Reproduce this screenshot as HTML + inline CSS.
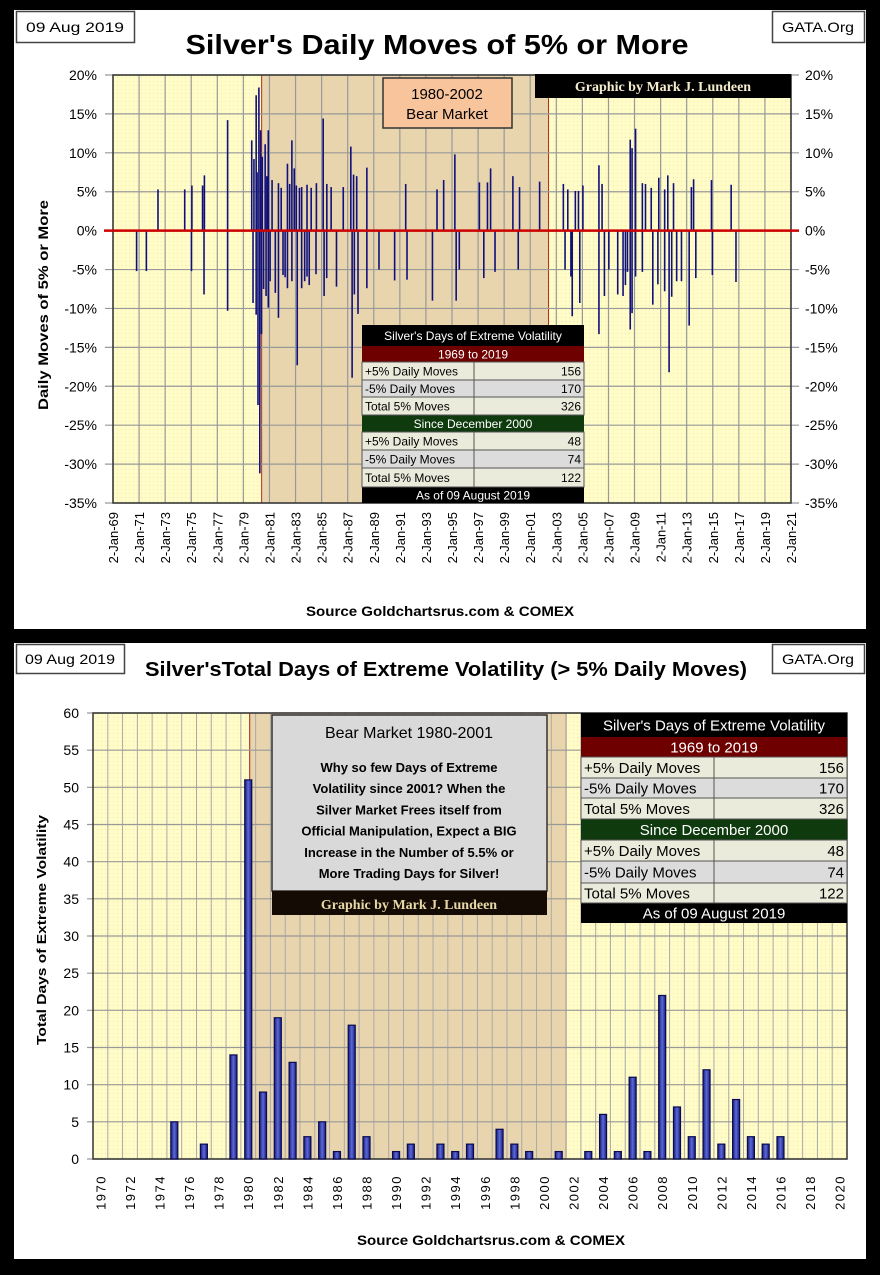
<!DOCTYPE html>
<html><head><meta charset="utf-8"><style>
html,body{margin:0;padding:0;background:#000;}
svg{display:block;font-family:"Liberation Sans",sans-serif;}
</style></head><body>
<svg id="svg" width="880" height="1275" viewBox="0 0 880 1275" xmlns="http://www.w3.org/2000/svg">
<defs>
<pattern id="dots" width="4" height="4" patternUnits="userSpaceOnUse"><rect width="4" height="4" fill="#fffcc8"/><rect x="1" y="1" width="1" height="1" fill="#efe6b0"/></pattern>
<linearGradient id="barg" x1="0" x2="1" y1="0" y2="0"><stop offset="0" stop-color="#1a1a7a"/><stop offset="0.5" stop-color="#5a6ad8"/><stop offset="1" stop-color="#1a1a7a"/></linearGradient>
</defs>
<rect x="0" y="0" width="880" height="1275" fill="#000"/>
<rect x="14" y="10" width="852" height="619" fill="#fff"/>
<rect x="14" y="643" width="852" height="616" fill="#fff"/>

<!-- top header -->
<g>
<rect x="16.5" y="11.5" width="118" height="31" fill="#fff" stroke="#444" stroke-width="1.5"/>
<text x="75" y="32" font-size="14" text-anchor="middle" textLength="98" lengthAdjust="spacingAndGlyphs">09 Aug 2019</text>
</g>
<g>
<rect x="772.5" y="11.5" width="92" height="31" fill="#fff" stroke="#444" stroke-width="1.5"/>
<text x="818" y="32" font-size="14" text-anchor="middle" textLength="72" lengthAdjust="spacingAndGlyphs">GATA.Org</text>
</g>
<text x="437" y="54" font-size="28" font-weight="bold" text-anchor="middle" textLength="503" lengthAdjust="spacingAndGlyphs">Silver's Daily Moves of 5% or More</text>
<g id="top"></g>
<text x="48" y="305" font-size="14" font-weight="bold" text-anchor="middle" transform="rotate(-90 48 305)" textLength="210" lengthAdjust="spacingAndGlyphs">Daily Moves of 5% or More</text>
<text x="440" y="616" font-size="14" font-weight="bold" text-anchor="middle" textLength="268" lengthAdjust="spacingAndGlyphs">Source Goldchartsrus.com &amp; COMEX</text>

<!-- bottom header -->
<g>
<rect x="16.5" y="644.5" width="108" height="29" fill="#fff" stroke="#444" stroke-width="1.5"/>
<text x="70" y="664" font-size="14" text-anchor="middle" textLength="90" lengthAdjust="spacingAndGlyphs">09 Aug 2019</text>
</g>
<g>
<rect x="772.5" y="644.5" width="92" height="29" fill="#fff" stroke="#444" stroke-width="1.5"/>
<text x="818" y="664" font-size="14" text-anchor="middle" textLength="72" lengthAdjust="spacingAndGlyphs">GATA.Org</text>
</g>
<text x="446" y="676" font-size="20" font-weight="bold" text-anchor="middle" textLength="602" lengthAdjust="spacingAndGlyphs">Silver'sTotal Days of Extreme Volatility (&gt; 5% Daily Moves)</text>
<g id="bot"></g>
<text x="46" y="930" font-size="13" font-weight="bold" text-anchor="middle" transform="rotate(-90 46 930)" textLength="230" lengthAdjust="spacingAndGlyphs">Total Days of Extreme Volatility</text>
<text x="491" y="1245" font-size="14" font-weight="bold" text-anchor="middle" textLength="268" lengthAdjust="spacingAndGlyphs">Source Goldchartsrus.com &amp; COMEX</text>
</svg>
<script>
// ---------- TOP CHART DATA ----------
const moveYears = [1972.45,1974.50,1975.05,1975.87,1976.01,1977.79,1979.64,1979.81,1979.98,1980.19,1980.32,1980.67,1980.91,1981.69,1981.90,1982.38,1982.72,1983.06,1983.47,1983.88,1984.60,1985.12,1985.73,1986.66,1987.24,1987.45,1987.69,1988.47,1991.45,1993.85,1994.36,1995.22,1997.10,1997.72,1997.96,1999.67,2000.18,2001.72,2003.54,2003.88,2004.46,2004.70,2005.04,2006.27,2006.51,2008.67,2008.81,2009.08,2009.60,2009.84,2010.28,2010.86,2011.31,2011.55,2011.99,2013.36,2013.53,2014.90,2016.41,
1980.05,1980.45,1980.80,1981.20,1982.55,1982.90,1983.30,1984.20,1985.40,
1970.81,1971.56,1975.02,1975.98,1977.79,1979.74,1979.98,1980.12,1980.26,1980.39,1980.74,1980.91,1981.69,1982.04,1982.38,1982.72,1983.13,1983.47,1983.88,1984.57,1985.19,1985.39,1986.14,1987.34,1987.51,1987.79,1988.47,1989.40,1990.60,1991.55,1993.50,1995.32,1995.56,1997.44,1998.30,2000.08,2003.67,2004.12,2004.22,2004.80,2006.27,2006.69,2007.03,2007.71,2008.12,2008.46,2008.67,2008.81,2009.08,2009.60,2010.79,2011.31,2011.65,2012.23,2013.19,2013.70,2014.97,2016.78,
1980.55,1981.05,1981.45,1982.20,1983.70,1984.05,2008.30,2010.40,2011.85,2012.60];
const movePcts = [5.3,5.3,5.8,5.8,7.1,14.2,11.6,9.2,17.4,18.4,12.9,11.1,12.9,6.1,5.5,8.6,11.6,5.8,5.6,5.9,6.1,14.4,5.6,5.6,10.8,7.2,7.0,8.1,6.0,5.3,6.5,9.8,6.2,6.2,8.0,7.0,5.6,6.3,6.0,5.3,5.1,5.1,5.8,8.4,6.0,11.7,10.6,13.1,6.1,6.0,5.5,6.8,5.3,7.1,6.1,5.6,6.6,6.5,5.9,
7.5,9.5,7.0,6.5,6.0,8.0,5.5,5.5,6.0,
-5.2,-5.2,-5.2,-8.2,-10.3,-9.3,-10.8,-22.4,-31.2,-13.3,-8.4,-9.9,-11.2,-5.7,-7.4,-6.5,-17.3,-7.4,-5.9,-5.6,-8.4,-6.1,-7.2,-18.9,-8.2,-10.7,-7.4,-5.0,-6.4,-6.3,-9.0,-9.0,-5.0,-6.1,-5.3,-5.0,-5.0,-5.9,-11.0,-9.3,-13.3,-8.4,-5.0,-8.2,-8.4,-5.3,-12.7,-10.6,-5.9,-5.3,-6.9,-7.8,-18.2,-6.5,-12.2,-6.1,-5.7,-6.6,
-7.5,-6.5,-8.0,-6.0,-6.5,-7.0,-7.0,-9.5,-8.5,-6.5];
const topYTicks = [20,15,10,5,0,-5,-10,-15,-20,-25,-30,-35];
const topXTickYears = [69,71,73,75,77,79,81,83,85,87,89,91,93,95,97,99,1,3,5,7,9,11,13,15,17,19,21];
const topBear = [1980.4, 2002.4];

// ---------- BOTTOM CHART DATA ----------
const yearCats = [];
for (let y = 1970; y <= 2020; y++) yearCats.push(y);
const countYears = [1975,1977,1979,1980,1981,1982,1983,1984,1985,1986,1987,1988,1990,1991,1993,1994,1995,1997,1998,1999,2001,2003,2004,2005,2006,2007,2008,2009,2010,2011,2012,2013,2014,2015,2016];
const countValues = [5,2,14,51,9,19,13,3,5,1,18,3,1,2,2,1,2,4,2,1,1,1,6,1,11,1,22,7,3,12,2,8,3,2,3];
const botYTicks = [0,5,10,15,20,25,30,35,40,45,50,55,60];
const botBear = [1980.6, 2002.0];

const statLabels = ['+5% Daily Moves','-5% Daily Moves','Total 5% Moves'];
const statAll = [156,170,326];
const statSince = [48,74,122];

const NS='http://www.w3.org/2000/svg';
function mk(parent, tag, attrs){const e=document.createElementNS(NS,tag);for(const k in attrs)e.setAttribute(k,attrs[k]);parent.appendChild(e);return e;}

// ===== TOP =====
(function(){
const g=document.getElementById('top');
const L=113,R=791,T=75,B=503;
const x=yr=>L+(yr-1969)*(R-L)/52;
const y=v=>T+(20-v)*(B-T)/55;
const plot=mk(g,'rect',{x:L,y:T,width:R-L,height:B-T,fill:'url(#dots)'});


const sh=mk(g,'rect',{x:x(topBear[0]),y:T,width:x(topBear[1])-x(topBear[0]),height:B-T,fill:'#e8d5ad',stroke:'#b03020','stroke-width':1});


for(let yr=1969; yr<=2021; yr+=2){
  const ln=mk(g,'line',{x1:x(yr),x2:x(yr),y1:T,y2:B,stroke:'#999',"stroke-width":1.2});
  
  
}
topYTicks.forEach(v=>{
  const ln=mk(g,'line',{x1:L-8,x2:R+8,y1:y(v),y2:y(v),stroke:'#999',"stroke-width":1.2});
  
  
  const t1=mk(g,'text',{x:97,y:y(v)+5,'font-size':14,'text-anchor':'end'});t1.textContent=v+'%';
  
  
  const t2=mk(g,'text',{x:805,y:y(v)+5,'font-size':14});t2.textContent=v+'%';
  
  
});
const fr=mk(g,'rect',{x:L,y:T,width:R-L,height:B-T,fill:'none',stroke:'#333',"stroke-width":1.5});


topXTickYears.forEach((yy,i)=>{
  const yr=1969+2*i;
  const px=x(yr)+5;
  const t=mk(g,'text',{x:px,y:512,'font-size':13,'text-anchor':'end',transform:`rotate(-90 ${px} 512)`});
  t.textContent='2-Jan-'+String(yy).padStart(2,'0');
  
  
});
moveYears.forEach((yr,i)=>{
  const b=mk(g,'line',{x1:x(yr),x2:x(yr),y1:y(0),y2:y(movePcts[i]),stroke:'#10107a','stroke-width':1.6});
  
  
});
const z=mk(g,'line',{x1:104,x2:R+8,y1:y(0),y2:y(0),stroke:'#cc0000','stroke-width':2.5});


// bear box
const bb=mk(g,'g',{});


mk(bb,'rect',{x:383,y:78,width:129,height:50,fill:'#f8c49c',stroke:'#333','stroke-width':1.5});
let t=mk(bb,'text',{x:447,y:99,'font-size':15,'text-anchor':'middle'});t.textContent='1980-2002';
t=mk(bb,'text',{x:447,y:119,'font-size':15,'text-anchor':'middle'});t.textContent='Bear Market';
const gb=mk(g,'g',{});


mk(gb,'rect',{x:535,y:74,width:256,height:24,fill:'#000'});
t=mk(gb,'text',{x:663,y:91,'font-size':14,'font-weight':'bold','font-family':'Liberation Serif,serif',fill:'#f4eccc','text-anchor':'middle'});t.textContent='Graphic by Mark J. Lundeen';
// stats table
drawTable(g,{x:362,w:222,split:474,rows:[325,346,362,380,397,415,432,450,468,487,503],fs:12},'top');
})();

function drawTable(g,o,prefix){
  const tb=mk(g,'g',{});
  
  
  const r=o.rows, xr=o.x+o.w;
  const band=(i,fill,text,col)=>{
    mk(tb,'rect',{x:o.x,y:r[i],width:o.w,height:r[i+1]-r[i],fill:fill});
    const tt=mk(tb,'text',{x:o.x+o.w/2,y:(r[i]+r[i+1])/2+o.fs*0.37,'font-size':o.fs,fill:col,'text-anchor':'middle'});tt.textContent=text;
  };
  band(0,'#000','Silver\'s Days of Extreme Volatility','#fff');
  band(1,'#6e0000','1969 to 2019','#fff');
  band(5,'#0e3a0e','Since December 2000','#fff');
  band(9,'#000','As of 09 August 2019','#fff');
  const rowsIdx=[2,3,4,6,7,8];
  rowsIdx.forEach((ri,k)=>{
    const fill=(k%3===1)?'#dcdcdc':'#ebebdc';
    mk(tb,'rect',{x:o.x,y:r[ri],width:o.w,height:r[ri+1]-r[ri],fill:fill,stroke:'#555','stroke-width':1});
    mk(tb,'line',{x1:o.split,x2:o.split,y1:r[ri],y2:r[ri+1],stroke:'#555','stroke-width':1});
    const cy=(r[ri]+r[ri+1])/2+o.fs*0.37;
    const a=mk(tb,'text',{x:o.x+3,y:cy,'font-size':o.fs});a.textContent=statLabels[k%3];
    const v=mk(tb,'text',{x:xr-3,y:cy,'font-size':o.fs,'text-anchor':'end'});v.textContent=(k<3?statAll:statSince)[k%3];
  });
}

// ===== BOTTOM =====
(function(){
const g=document.getElementById('bot');
const L=93,R=847,T=713,B=1159;
const bw=(R-L)/yearCats.length;
const xc=yr=>L+(yearCats.indexOf(Math.floor(yr))+ (yr-Math.floor(yr)))*bw;
const xmid=yr=>L+(yearCats.indexOf(yr)+0.5)*bw;
const y=v=>B-v*(B-T)/60;
const plot=mk(g,'rect',{x:L,y:T,width:R-L,height:B-T,fill:'url(#dots)'});


const sh=mk(g,'rect',{x:xc(botBear[0]),y:T,width:xc(botBear[1])-xc(botBear[0]),height:B-T,fill:'#e8d5ad',stroke:'#a02020','stroke-width':1});


for(let i=0;i<=yearCats.length;i++){
  const ln=mk(g,'line',{x1:L+i*bw,x2:L+i*bw,y1:T,y2:B,stroke:'#aaa','stroke-width':1});
  
  
}
botYTicks.forEach(v=>{
  const ln=mk(g,'line',{x1:L-6,x2:R,y1:y(v),y2:y(v),stroke:'#999','stroke-width':1.2});
  
  
  const t=mk(g,'text',{x:79,y:y(v)+5,'font-size':14,'text-anchor':'end'});t.textContent=v;
  
  
});
const fr=mk(g,'rect',{x:L,y:T,width:R-L,height:B-T,fill:'none',stroke:'#333','stroke-width':1.5});


yearCats.forEach(yr=>{
  if((yr-1970)%2) return;
  const px=xmid(yr)+5;
  const t=mk(g,'text',{x:px,y:1175,'font-size':13,'text-anchor':'end','letter-spacing':'1.5',transform:`rotate(-90 ${px} 1175)`});
  t.textContent=yr;
  
  
});
countYears.forEach((yr,i)=>{
  const v=countValues[i];
  const b=mk(g,'rect',{x:xmid(yr)-3.5,y:y(v),width:7,height:B-y(v),fill:'url(#barg)',stroke:'#0a0a50','stroke-width':1.2});
  
  
});
// bear text box
const bx=mk(g,'g',{});


mk(bx,'rect',{x:272,y:715,width:275,height:176,fill:'#d9d9d9',stroke:'#333','stroke-width':1.5});
mk(bx,'rect',{x:272,y:891,width:275,height:24,fill:'#140c04'});
const lines=['Why so few Days of Extreme','Volatility since 2001?  When the','Silver Market Frees itself from','Official Manipulation, Expect a BIG','Increase in the Number of 5.5% or','More Trading Days for Silver!'];
let t=mk(bx,'text',{x:409,y:738,'font-size':16,'text-anchor':'middle'});t.textContent='Bear Market 1980-2001';
lines.forEach((s,i)=>{const tt=mk(bx,'text',{x:409,y:772+i*21.2,'font-size':13,'font-weight':'bold','text-anchor':'middle'});tt.textContent=s;});
t=mk(bx,'text',{x:409,y:909,'font-size':14,'font-weight':'bold','font-family':'Liberation Serif,serif',fill:'#e8d8a8','text-anchor':'middle'});t.textContent='Graphic by Mark J. Lundeen';
drawTable(g,{x:581,w:266,split:714,rows:[713,737,757,778,798,819,840,861,883,903,923],fs:15},'bottom');
})();
</script>
</body></html>
